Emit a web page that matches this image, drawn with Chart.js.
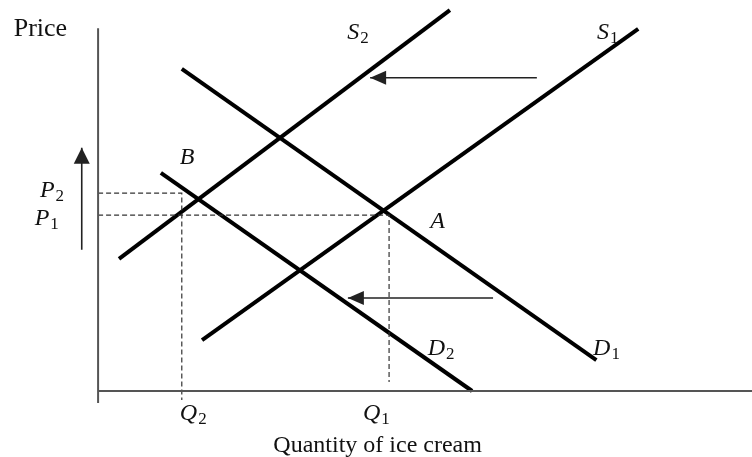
<!DOCTYPE html>
<html>
<head>
<meta charset="utf-8">
<script src="https://cdn.jsdelivr.net/npm/chart.js@4.4.1/dist/chart.umd.min.js"></script>
<style>
  html, body { margin: 0; padding: 0; background: #fff; }
  #wrap { width: 752px; height: 457px; }
</style>
</head>
<body>
<div id="wrap"><canvas id="c" width="752" height="457"></canvas></div>
<script>
// ---- data (quantity on x, price on y, arbitrary units) ----
const supplyS1 = [{x: 15.9, y: 13.0}, {x: 82.6, y: 92.6}];
const supplyS2 = [{x: 3.2, y: 33.8}, {x: 53.8, y: 97.4}];
const demandD1 = [{x: 12.8, y: 82.4}, {x: 76.2, y: 7.9}];
const demandD2 = [{x: 9.6, y: 55.8}, {x: 57.2, y: 0}];

const priceP1 = 45.0, priceP2 = 50.6;
const qtyQ1 = 44.5, qtyQ2 = 12.8;

const guideP2 = [{x: 0, y: priceP2}, {x: qtyQ2, y: priceP2}, {x: qtyQ2, y: -2.3}];
const guideP1 = [{x: 0, y: priceP1}, {x: qtyQ1, y: priceP1}, {x: qtyQ1, y: 2.3}];

// arrows: first point is the tip
const arrowSupplyShift = [{x: 41.6, y: 80.1}, {x: 67.1, y: 80.1}];
const arrowDemandShift = [{x: 38.2, y: 23.8}, {x: 60.4, y: 23.8}];
const arrowPriceRise   = [{x: -2.5, y: 62.2}, {x: -2.5, y: 36.1}];

const xAxisLine = [{x: 0, y: 0}, {x: 100, y: 0}];
const yAxisLine = [{x: 0, y: -3.1}, {x: 0, y: 92.8}];

// ---- text labels (main letter, subscript, anchor in data units) ----
const labels = [
  {t: 'Price', s: '', it: false, x: -12.9, y: 90.8, size: 26},
  {t: 'S', s: '2', it: true, x: 38.1, y: 90.0, size: 24},
  {t: 'S', s: '1', it: true, x: 76.3, y: 90.0, size: 24},
  {t: 'B', s: '',  it: true, x: 12.5, y: 58.1, size: 24},
  {t: 'P', s: '2', it: true, x: -8.9, y: 49.6, size: 24},
  {t: 'P', s: '1', it: true, x: -9.7, y: 42.5, size: 24},
  {t: 'A', s: '',  it: true, x: 50.8, y: 41.7, size: 24},
  {t: 'D', s: '2', it: true, x: 50.4, y: 9.2, size: 24},
  {t: 'D', s: '1', it: true, x: 75.7, y: 9.2, size: 24},
  {t: 'Q', s: '2', it: true, x: 12.5, y: -7.4, size: 24},
  {t: 'Q', s: '1', it: true, x: 40.5, y: -7.4, size: 24},
  {t: 'Quantity of ice cream', s: '', it: false, x: 26.8, y: -15.6, size: 24}
];

const FONT = "'Liberation Serif', 'Times New Roman', serif";

const textPlugin = {
  id: 'texts',
  afterDatasetsDraw(chart) {
    const ctx = chart.ctx;
    const xs = chart.scales.x, ys = chart.scales.y;
    ctx.save();
    ctx.fillStyle = '#111';
    ctx.textBaseline = 'alphabetic';
    ctx.textAlign = 'left';
    labels.forEach(l => {
      const px = xs.getPixelForValue(l.x);
      const py = ys.getPixelForValue(l.y);
      ctx.font = (l.it ? 'italic ' : '') + l.size + 'px ' + FONT;
      ctx.fillText(l.t, px, py);
      if (l.s) {
        const w = ctx.measureText(l.t).width;
        ctx.font = Math.round(l.size * 0.72) + 'px ' + FONT;
        ctx.fillText(l.s, px + w + 1, py + 4);
      }
    });
    ctx.restore();
  }
};

const arrowPlugin = {
  id: 'arrowHeads',
  afterDatasetsDraw(chart) {
    const ctx = chart.ctx;
    const xs = chart.scales.x, ys = chart.scales.y;
    ctx.save();
    chart.data.datasets.forEach(ds => {
      if (!ds.arrow) return;
      const tip = ds.data[0], tail = ds.data[1];
      const tx = xs.getPixelForValue(tip.x), ty = ys.getPixelForValue(tip.y);
      const bx = xs.getPixelForValue(tail.x), by = ys.getPixelForValue(tail.y);
      const ang = Math.atan2(ty - by, tx - bx);
      const len = ds.arrow.len, half = ds.arrow.half;
      ctx.fillStyle = ds.borderColor;
      ctx.beginPath();
      ctx.moveTo(tx, ty);
      ctx.lineTo(tx - len * Math.cos(ang) + half * Math.sin(ang), ty - len * Math.sin(ang) - half * Math.cos(ang));
      ctx.lineTo(tx - len * Math.cos(ang) - half * Math.sin(ang), ty - len * Math.sin(ang) + half * Math.cos(ang));
      ctx.closePath();
      ctx.fill();
    });
    ctx.restore();
  }
};

function line(data, color, width, extra) {
  return Object.assign({
    data: data, showLine: true, borderColor: color, backgroundColor: color,
    borderWidth: width, pointRadius: 0, pointHoverRadius: 0, fill: false,
    borderCapStyle: 'butt', tension: 0
  }, extra || {});
}

new Chart(document.getElementById('c'), {
  type: 'scatter',
  data: {
    datasets: [
      line(xAxisLine, '#555', 2),
      line(yAxisLine, '#555', 2),
      line(guideP2, '#333', 1.2, {borderDash: [5, 3]}),
      line(guideP1, '#333', 1.2, {borderDash: [5, 3]}),
      line(supplyS1, '#000', 4),
      line(supplyS2, '#000', 4),
      line(demandD1, '#000', 4),
      line(demandD2, '#000', 4),
      line(arrowSupplyShift, '#222', 1.6, {arrow: {len: 16, half: 7}}),
      line(arrowDemandShift, '#222', 1.6, {arrow: {len: 16, half: 7}}),
      line(arrowPriceRise, '#222', 1.6, {arrow: {len: 16, half: 8}})
    ]
  },
  options: {
    responsive: false,
    animation: false,
    devicePixelRatio: 1,
    layout: {padding: {left: 0, right: 0, top: 0, bottom: 46.45}},
    clip: false,
    plugins: {legend: {display: false}, tooltip: {enabled: false}},
    scales: {
      x: {type: 'linear', min: -15, max: 100, display: false},
      y: {type: 'linear', min: -5, max: 100, display: false}
    }
  },
  plugins: [arrowPlugin, textPlugin]
});
</script>
</body>
</html>
